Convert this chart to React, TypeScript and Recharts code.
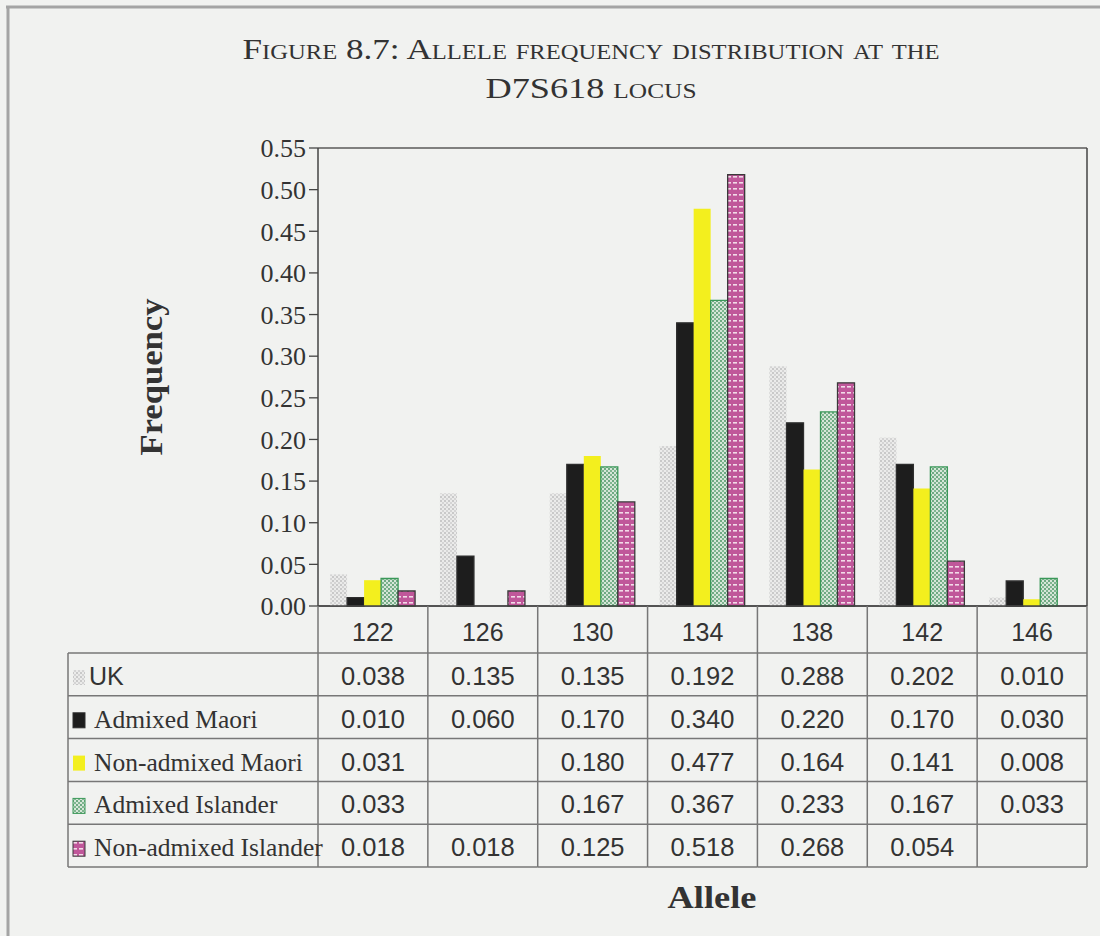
import React from "react";
import { BarChart, Bar, XAxis, YAxis, CartesianGrid } from "recharts";

// Allele sizes (bp) at the D7S618 locus
const alleles = ["122", "126", "130", "134", "138", "142", "146"];

// Allele frequencies per population (null = allele not observed)
const ukFreq: (number | null)[] = [0.038, 0.135, 0.135, 0.192, 0.288, 0.202, 0.01];
const admixedMaoriFreq: (number | null)[] = [0.01, 0.06, 0.17, 0.34, 0.22, 0.17, 0.03];
const nonAdmixedMaoriFreq: (number | null)[] = [0.031, null, 0.18, 0.477, 0.164, 0.141, 0.008];
const admixedIslanderFreq: (number | null)[] = [0.033, null, 0.167, 0.367, 0.233, 0.167, 0.033];
const nonAdmixedIslanderFreq: (number | null)[] = [0.018, 0.018, 0.125, 0.518, 0.268, 0.054, null];

const yTicks = [0, 0.05, 0.1, 0.15, 0.2, 0.25, 0.3, 0.35, 0.4, 0.45, 0.5, 0.55];

const series = [
  { key: "uk", name: "UK", values: ukFreq, fill: "url(#pat-uk)", stroke: "none", sans: true },
  { key: "am", name: "Admixed Maori", values: admixedMaoriFreq, fill: "#1d1d1d", stroke: "#2e2e2e", sans: false },
  { key: "nm", name: "Non-admixed Maori", values: nonAdmixedMaoriFreq, fill: "#f3ef1e", stroke: "none", sans: false },
  { key: "ai", name: "Admixed Islander", values: admixedIslanderFreq, fill: "url(#pat-green)", stroke: "#3a9858", sans: false },
  { key: "ni", name: "Non-admixed Islander", values: nonAdmixedIslanderFreq, fill: "url(#pat-pink)", stroke: "#3a3a3a", sans: false },
];

const rows = alleles.map((a, i) => {
  const r: Record<string, string | number | null> = { allele: a };
  series.forEach((s) => (r[s.key] = s.values[i]));
  return r;
});

// Layout
const W = 1100;
const H = 936;
const PLOT_LEFT = 318;
const PLOT_RIGHT = 1087;
const PLOT_TOP = 148;
const AXIS_Y = 606;
const Y_AXIS_W = 70;
const X_AXIS_H = 261;
const HEADER_H = 47;
const ROW_H = 42.8;
const LEGEND_LEFT = 68;
const TABLE_BOTTOM = AXIS_Y + HEADER_H + ROW_H * series.length;

const SERIF = "'Liberation Serif', 'Times New Roman', serif";
const SANS = "'Liberation Sans', Arial, sans-serif";
const INK = "#333";
const RULE = "#777";

function Swatch({ x, y, s }: { x: number; y: number; s: (typeof series)[number] }) {
  return (
    <rect
      x={x}
      y={y}
      width={12}
      height={15}
      fill={s.fill}
      stroke={s.stroke === "none" ? "none" : s.stroke}
      strokeWidth={1}
    />
  );
}

// Each x-axis tick draws one column of the data table under the plot;
// the first tick also draws the legend column on the left.
function TableColumn(props: any) {
  const { x, payload, index } = props;
  const colW = (PLOT_RIGHT - PLOT_LEFT) / alleles.length;
  const left = x - colW / 2;
  const right = x + colW / 2;
  const top = AXIS_Y;
  const headBottom = top + HEADER_H;
  const els: React.ReactNode[] = [];

  els.push(<line key="vl" x1={left} y1={top} x2={left} y2={TABLE_BOTTOM} stroke={RULE} strokeWidth={1.5} />);
  if (index === alleles.length - 1) {
    els.push(<line key="vr" x1={right} y1={top} x2={right} y2={TABLE_BOTTOM} stroke={RULE} strokeWidth={1.5} />);
  }
  els.push(
    <text key="h" x={x} y={top + 35} textAnchor="middle" fontFamily={SANS} fontSize={25} fill={INK}>
      {payload.value}
    </text>
  );
  series.forEach((s, r) => {
    const rowTop = headBottom + r * ROW_H;
    els.push(<line key={"hl" + r} x1={left} y1={rowTop} x2={right} y2={rowTop} stroke={RULE} strokeWidth={1.5} />);
    const v = s.values[index];
    if (v !== null && v !== undefined) {
      els.push(
        <text key={"t" + r} x={x} y={rowTop + 32} textAnchor="middle" fontFamily={SANS} fontSize={25.5} fill={INK}>
          {v.toFixed(3)}
        </text>
      );
    }
  });
  els.push(<line key="bl" x1={left} y1={TABLE_BOTTOM} x2={right} y2={TABLE_BOTTOM} stroke={RULE} strokeWidth={1.5} />);

  if (index === 0) {
    els.push(
      <line key="lv" x1={LEGEND_LEFT} y1={headBottom} x2={LEGEND_LEFT} y2={TABLE_BOTTOM} stroke={RULE} strokeWidth={1.5} />
    );
    series.forEach((s, r) => {
      const rowTop = headBottom + r * ROW_H;
      els.push(
        <line key={"lh" + r} x1={LEGEND_LEFT} y1={rowTop} x2={left} y2={rowTop} stroke={RULE} strokeWidth={1.5} />
      );
      els.push(<Swatch key={"sw" + r} x={73} y={rowTop + 17} s={s} />);
      els.push(
        <text
          key={"ln" + r}
          x={s.sans ? 89 : 94}
          y={rowTop + 32}
          fontFamily={s.sans ? SANS : SERIF}
          fontSize={s.sans ? 25 : 25.5}
          fill={INK}
        >
          {s.name}
        </text>
      );
    });
    els.push(
      <line key="lb" x1={LEGEND_LEFT} y1={TABLE_BOTTOM} x2={left} y2={TABLE_BOTTOM} stroke={RULE} strokeWidth={1.5} />
    );
  }
  return <g>{els}</g>;
}

export default function App() {
  return (
    <div
      style={{
        position: "absolute",
        left: 0,
        top: 0,
        width: W,
        height: H,
        background: "#f1f2f0",
        overflow: "hidden",
      }}
    >
      <svg width={0} height={0} style={{ position: "absolute" }}>
        <defs>
          <pattern id="pat-uk" width={4} height={4} patternUnits="userSpaceOnUse">
            <rect width={4} height={4} fill="#ebebea" />
            <rect width={2} height={2} fill="#c9c9c9" />
            <rect x={2} y={2} width={2} height={2} fill="#d4d4d4" />
          </pattern>
          <pattern id="pat-green" width={4} height={4} patternUnits="userSpaceOnUse">
            <rect width={4} height={4} fill="#d6e6d8" />
            <rect width={2} height={2} fill="#6ea982" />
            <rect x={2} y={2} width={2} height={2} fill="#7fb590" />
          </pattern>
          <pattern id="pat-pink" width={6} height={6} patternUnits="userSpaceOnUse">
            <rect width={6} height={6} fill="#c0579a" />
            <rect x={1} y={2} width={4} height={1.6} fill="#f2dbe8" />
          </pattern>
        </defs>
      </svg>

      <BarChart
        width={W}
        height={H}
        data={rows}
        margin={{ top: PLOT_TOP, right: W - PLOT_RIGHT - 1, left: PLOT_LEFT - Y_AXIS_W, bottom: H - AXIS_Y - X_AXIS_H }}
        barCategoryGap="11%"
        barGap={0}
      >
        <CartesianGrid horizontal vertical={false} stroke="#5a5a5a" strokeWidth={1.3} />
        <YAxis
          yAxisId="left"
          width={Y_AXIS_W}
          domain={[0, 0.55]}
          ticks={yTicks}
          interval={0}
          tickFormatter={(v: number) => v.toFixed(2)}
          tick={{ fontFamily: SERIF, fontSize: 26, fill: INK }}
          tickSize={9}
          tickMargin={3}
          axisLine={{ stroke: "#444", strokeWidth: 1.5 }}
          tickLine={{ stroke: "#444", strokeWidth: 1.3 }}
        />
        <YAxis
          yAxisId="right"
          orientation="right"
          width={1}
          domain={[0, 0.55]}
          tick={false}
          tickLine={false}
          axisLine={{ stroke: "#444", strokeWidth: 1.5 }}
        />
        <XAxis
          dataKey="allele"
          height={X_AXIS_H}
          interval={0}
          tickLine={false}
          tickSize={0}
          tickMargin={0}
          axisLine={{ stroke: "#444", strokeWidth: 1.5 }}
          tick={<TableColumn />}
        />
        {series.map((s) => (
          <Bar
            key={s.key}
            yAxisId="left"
            dataKey={s.key}
            name={s.name}
            fill={s.fill}
            stroke={s.stroke}
            strokeWidth={1.3}
            isAnimationActive={false}
          />
        ))}
      </BarChart>

      <svg
        width={W}
        height={H}
        style={{ position: "absolute", left: 0, top: 0, pointerEvents: "none" }}
      >
        {/* page frame */}
        <line x1={6} y1={7} x2={W} y2={7} stroke="#a4a4a4" strokeWidth={3} />
        <line x1={8} y1={6} x2={8} y2={H} stroke="#a4a4a4" strokeWidth={3} />

        <text
          x={591}
          y={59}
          textAnchor="middle"
          fontFamily={SERIF}
          fontSize={30}
          fill={INK}
          style={{ fontVariant: "small-caps" }}
          textLength={697}
          lengthAdjust="spacingAndGlyphs"
        >
          Figure 8.7: Allele frequency distribution at the
        </text>
        <text
          x={591}
          y={98}
          textAnchor="middle"
          fontFamily={SERIF}
          fontSize={30}
          fill={INK}
          style={{ fontVariant: "small-caps" }}
          textLength={211}
          lengthAdjust="spacingAndGlyphs"
        >
          D7S618 locus
        </text>

        <text
          transform="translate(162, 377) rotate(-90)"
          textAnchor="middle"
          fontFamily={SERIF}
          fontWeight="bold"
          fontSize={31}
          fill={INK}
          textLength={157}
          lengthAdjust="spacingAndGlyphs"
        >
          Frequency
        </text>
        <text
          x={712}
          y={908}
          textAnchor="middle"
          fontFamily={SERIF}
          fontWeight="bold"
          fontSize={31}
          fill={INK}
          textLength={89}
          lengthAdjust="spacingAndGlyphs"
        >
          Allele
        </text>
      </svg>
    </div>
  );
}
